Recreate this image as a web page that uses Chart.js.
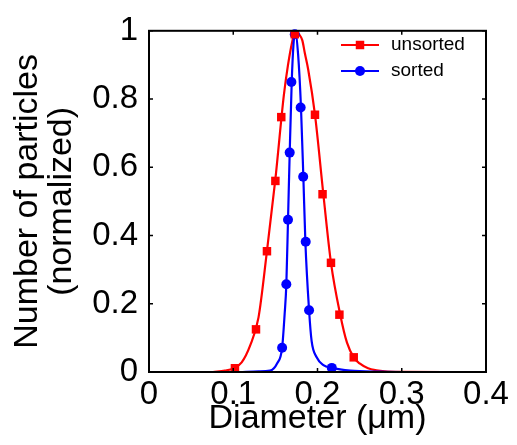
<!DOCTYPE html>
<html>
<head>
<meta charset="utf-8">
<script src="https://cdn.jsdelivr.net/npm/chart.js@4.4.1/dist/chart.umd.min.js"></script>
<style>
  body { margin: 0; background: #fff; }
  #chart { display: block; }
</style>
</head>
<body>
<canvas id="chart" width="517" height="445"></canvas>
<script>
// measured points (markers)
const unsortedX = [0.102, 0.127, 0.140, 0.150, 0.157, 0.173, 0.197, 0.206, 0.216, 0.226, 0.243];
const unsortedY = [0.011, 0.125, 0.354, 0.56, 0.747, 0.99, 0.754, 0.521, 0.32, 0.168, 0.043];
const sortedX = [0.158, 0.163, 0.165, 0.167, 0.169, 0.173, 0.180, 0.183, 0.186, 0.190, 0.217];
const sortedY = [0.071, 0.257, 0.446, 0.643, 0.85, 0.99, 0.775, 0.572, 0.382, 0.181, 0.012];

// fitted curves
const unsortedFitX = [0.076, 0.09, 0.10, 0.11, 0.12, 0.13, 0.14, 0.15, 0.16, 0.165, 0.17, 0.1735, 0.178, 0.182, 0.185, 0.189, 0.197, 0.207, 0.216, 0.227, 0.235, 0.243, 0.25, 0.26, 0.27, 0.28, 0.30, 0.35, 0.40];
const unsortedFitY = [0, 0.004, 0.010, 0.028, 0.077, 0.16, 0.354, 0.565, 0.81, 0.90, 0.968, 1.0, 0.99, 0.972, 0.934, 0.886, 0.754, 0.52, 0.32, 0.168, 0.086, 0.043, 0.025, 0.011, 0.005, 0.002, 0.0005, 0, 0];
const sortedFitX = [0.108, 0.13, 0.1436, 0.152, 0.158, 0.161, 0.163, 0.165, 0.167, 0.1694, 0.1715, 0.1735, 0.177, 0.1804, 0.1832, 0.1856, 0.190, 0.193, 0.199, 0.207, 0.217, 0.239, 0.274, 0.30, 0.40];
const sortedFitY = [0, 0.002, 0.004, 0.025, 0.071, 0.17, 0.256, 0.446, 0.642, 0.85, 0.96, 1.0, 0.93, 0.775, 0.572, 0.382, 0.181, 0.091, 0.043, 0.020, 0.012, 0.004, 0.001, 0, 0];

const xTicks = [0, 0.1, 0.2, 0.3, 0.4];
const yTicks = [0, 0.2, 0.4, 0.6, 0.8, 1];
const xTickLabels = ["0", "0.1", "0.2", "0.3", "0.4"];
const yTickLabels = ["0", "0.2", "0.4", "0.6", "0.8", "1"];

const toPts = (xs, ys) => xs.map((x, i) => ({ x: x, y: ys[i] }));
const FONT = "'Liberation Sans', Arial, Helvetica, sans-serif";

// box with inward ticks, MATLAB style
const framePlugin = {
  id: "frame",
  afterDatasetsDraw(chart) {
    const { ctx, chartArea: a, scales } = chart;
    ctx.save();
    ctx.strokeStyle = "#000";
    ctx.lineWidth = 2;
    ctx.strokeRect(a.left, a.top, a.right - a.left, a.bottom - a.top);
    ctx.lineWidth = 1.5;
    ctx.beginPath();
    xTicks.forEach(v => {
      const px = scales.x.getPixelForValue(v);
      ctx.moveTo(px, a.bottom); ctx.lineTo(px, a.bottom - 4);
      ctx.moveTo(px, a.top); ctx.lineTo(px, a.top + 4);
    });
    yTicks.forEach(v => {
      const py = scales.y.getPixelForValue(v);
      ctx.moveTo(a.left, py); ctx.lineTo(a.left + 4, py);
      ctx.moveTo(a.right, py); ctx.lineTo(a.right - 4, py);
    });
    ctx.stroke();
    ctx.restore();
  }
};

// legend inside the plot, top right
const legendPlugin = {
  id: "innerLegend",
  afterDraw(chart) {
    const { ctx } = chart;
    const items = [
      { ds: chart.data.datasets[3], y: 45 },
      { ds: chart.data.datasets[2], y: 71 }
    ];
    ctx.save();
    items.forEach(it => {
      ctx.strokeStyle = it.ds.borderColor;
      ctx.lineWidth = 2;
      ctx.beginPath();
      ctx.moveTo(341, it.y); ctx.lineTo(379, it.y);
      ctx.stroke();
      ctx.fillStyle = it.ds.backgroundColor;
      Chart.helpers.drawPoint(ctx, { pointStyle: it.ds.pointStyle, radius: it.ds.pointRadius, rotation: 0, borderWidth: 0 }, 360, it.y);
      ctx.fillStyle = "#000";
      ctx.font = "19px " + FONT;
      ctx.textBaseline = "middle";
      ctx.fillText(it.ds.label, 391, it.y);
    });
    ctx.restore();
  }
};

new Chart(document.getElementById("chart").getContext("2d"), {
  type: "scatter",
  data: {
    datasets: [
      {
        label: "unsorted fit",
        data: toPts(unsortedFitX, unsortedFitY),
        showLine: true,
        borderColor: "#ff0000",
        borderWidth: 2.2,
        pointRadius: 0,
        cubicInterpolationMode: "monotone",
        order: 4
      },
      {
        label: "sorted fit",
        data: toPts(sortedFitX, sortedFitY),
        showLine: true,
        borderColor: "#0000ff",
        borderWidth: 2.2,
        pointRadius: 0,
        cubicInterpolationMode: "monotone",
        order: 3
      },
      {
        label: "sorted",
        data: toPts(sortedX, sortedY),
        showLine: false,
        borderColor: "#0000ff",
        backgroundColor: "#0000ff",
        pointStyle: "circle",
        pointRadius: 5,
        borderWidth: 0,
        clip: false,
        order: 2
      },
      {
        label: "unsorted",
        data: toPts(unsortedX, unsortedY),
        showLine: false,
        borderColor: "#ff0000",
        backgroundColor: "#ff0000",
        pointStyle: "rect",
        pointRadius: 6,
        borderWidth: 0,
        clip: false,
        order: 1
      }
    ]
  },
  options: {
    responsive: false,
    animation: false,
    layout: { padding: { top: 20, right: 31, left: 0, bottom: 0 } },
    plugins: { legend: { display: false }, tooltip: { enabled: false } },
    scales: {
      x: {
        type: "linear",
        min: 0,
        max: 0.4,
        afterBuildTicks: s => { s.ticks = xTicks.map(v => ({ value: v })); },
        afterFit: s => { s.height = 73; },
        grid: { display: false, drawTicks: false },
        border: { display: false },
        ticks: {
          color: "#000",
          font: { family: FONT, size: 33 },
          padding: 3,
          maxRotation: 0,
          callback: (v, i) => xTickLabels[i]
        },
        title: {
          display: true,
          text: "Diameter (\u03bcm)",
          color: "#000",
          font: { family: FONT, size: 34, lineHeight: 1.0 },
          padding: { top: 0, bottom: 9 }
        }
      },
      y: {
        min: 0,
        max: 1,
        afterBuildTicks: s => { s.ticks = yTicks.map(v => ({ value: v })); },
        afterFit: s => { s.width = 149; },
        grid: { display: false, drawTicks: false },
        border: { display: false },
        ticks: {
          color: "#000",
          font: { family: FONT, size: 33 },
          padding: 11,
          callback: (v, i) => yTickLabels[i]
        },
        title: {
          display: true,
          text: ["Number of particles", "(normalized)"],
          color: "#000",
          font: { family: FONT, size: 34, lineHeight: 1.0 },
          padding: { top: 11, bottom: 0 }
        }
      }
    }
  },
  plugins: [framePlugin, legendPlugin]
});
</script>
</body>
</html>
